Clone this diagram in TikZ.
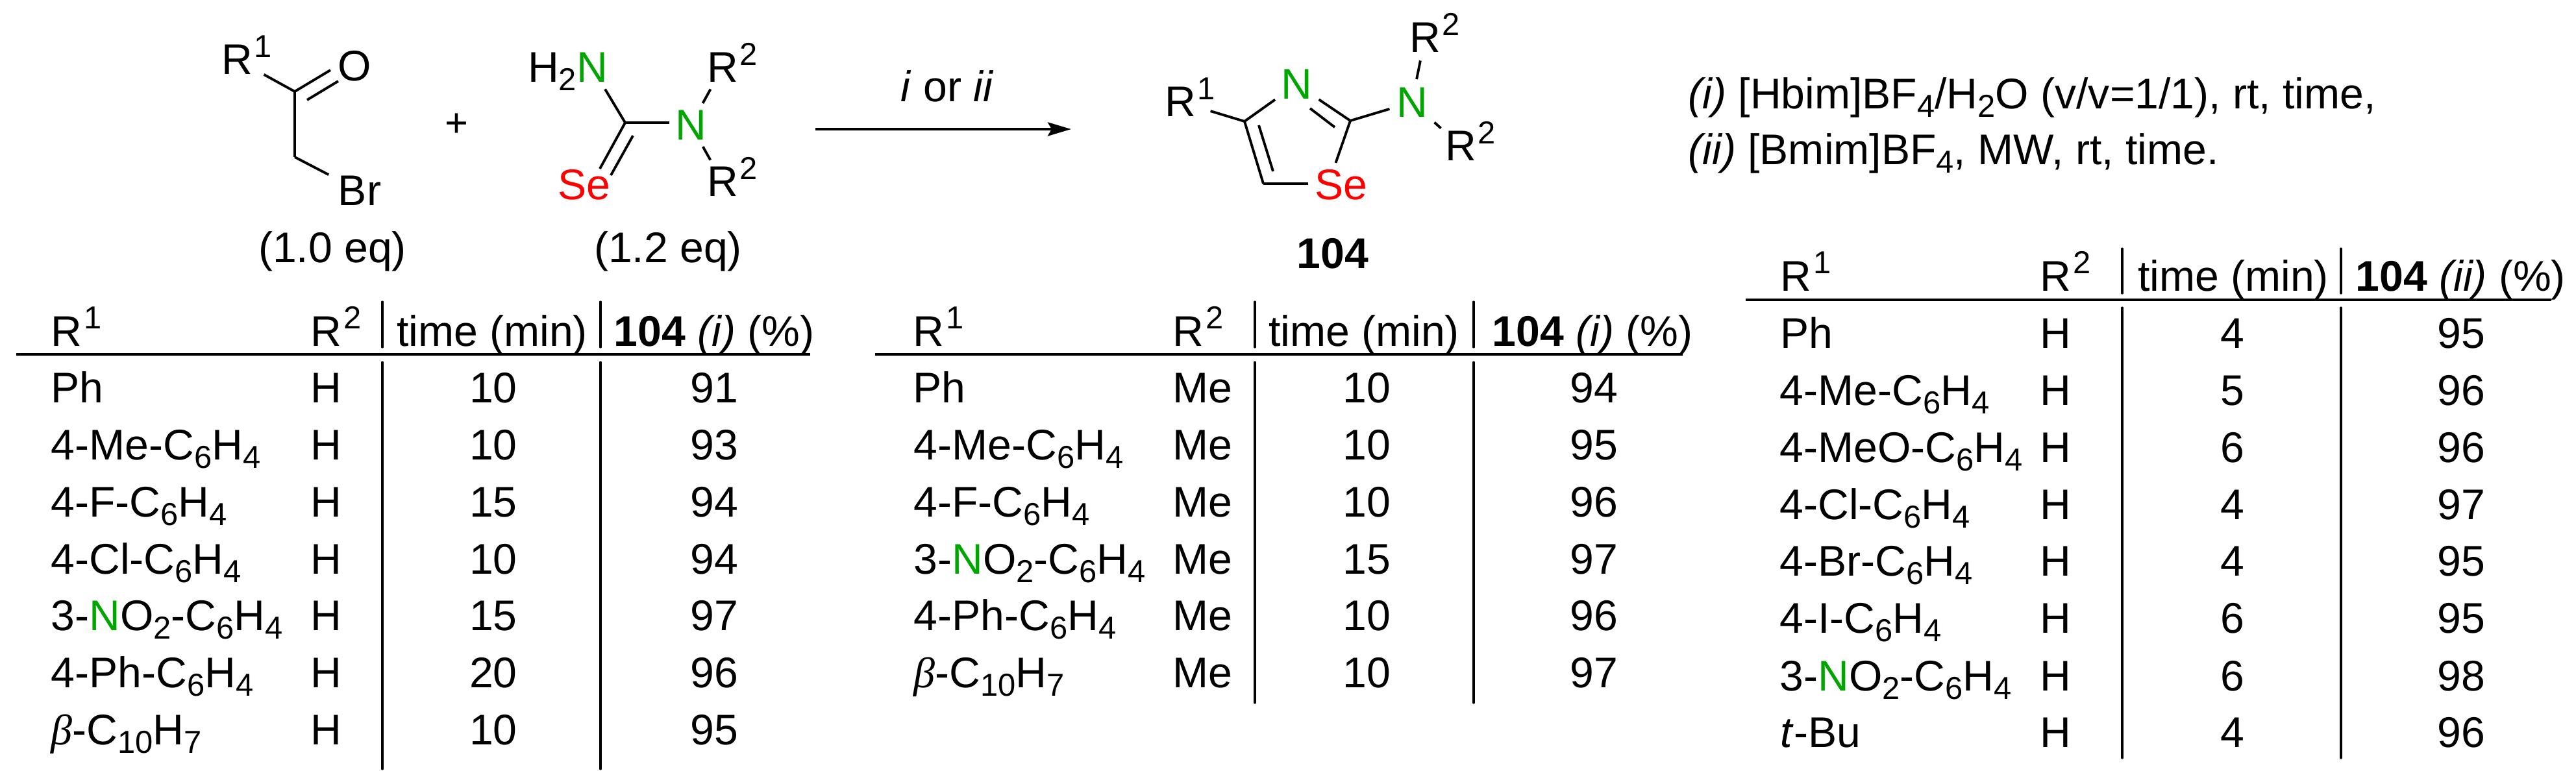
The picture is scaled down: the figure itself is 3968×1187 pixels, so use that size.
\documentclass[tikz,border=0pt]{standalone}
\usepackage{fontspec}
\setmainfont{Liberation Sans}
\newfontfamily\betafont{Liberation Serif}
\usetikzlibrary{arrows.meta}
\definecolor{ngreen}{RGB}{0,166,0}
\newcommand{\rsup}[1]{\smash{\rlap{\kern0.03cm\raisebox{0.26cm}{\fontsize{13.9}{15}\selectfont #1}}}}
\newcommand{\dn}[1]{\raisebox{-0.13cm}{\fontsize{13.9}{15}\selectfont #1}}
\tikzset{
    every node/.style={font=\fontsize{18.8}{22}\selectfont},
    atom/.style={inner xsep=0.1cm,inner ysep=0.1cm},
    lefttxt/.style={anchor=base west,inner sep=0pt},
    midtxt/.style={anchor=base,inner sep=0pt},
    bond/.style={line width=1.1pt},
    hrule/.style={line width=1.3pt},
    vrule/.style={line width=0.9pt,line cap=round},
    rxnarrow/.style={line width=1.35pt,-{Stealth[length=0.36cm,width=0.21cm,inset=0.06cm]}}
}
\begin{document}
\begin{tikzpicture}[x=0.01cm,y=-0.01cm]
    \useasboundingbox (0,0) rectangle (3968,1187);

    \coordinate (c1) at (454,141);
    \coordinate (c2) at (454,242);
    \coordinate (c3) at (963,189);
    \coordinate (c4) at (1917,187);
    \coordinate (c5) at (1946,283);
    \coordinate (c6) at (2080,186);
    \coordinate (co1) at (509,108);
    \coordinate (co2) at (473,154);
    \coordinate (co3) at (521,125);
    \coordinate (cs1) at (924,260);
    \coordinate (cs2) at (975,209);
    \coordinate (cs3) at (941,270);
    \coordinate (cn1) at (2018,167);
    \coordinate (cn2) at (2056,196);
    \coordinate (cc1) at (1939,193);
    \coordinate (cc2) at (1961,264);
    \coordinate (arrstart) at (1256,199);
    \coordinate (arrend) at (1650,199);

    \node[atom,inner xsep=0.17cm,inner ysep=0pt] (r1k) at (365,92) {R\rsup{1}};
    \node[atom] (oxy) at (546,102) {O};
    \node[atom,inner xsep=0.14cm,inner ysep=0.02cm] (brom) at (554,294) {Br};
    \node (plus) at (703,193) {\fontsize{17.5}{19}\selectfont +};
    \node[atom] (h2n) at (912,104) {\llap{\smash{H\dn{2}}}\textcolor{ngreen}{N}};
    \node[atom,inner xsep=0.08cm] (n1) at (1064,192.5) {\textcolor{ngreen}{N}};
    \node[atom] (r2a) at (1113,104) {R\rsup{2}};
    \node[atom] (r2b) at (1113,280) {R\rsup{2}};
    \node[atom] (se1) at (900,285) {\textcolor{red}{Se}};
    \node[midtxt] (eq1) at (512,404) {(1.0 eq)};
    \node[midtxt] (eq2) at (1029,404) {(1.2 eq)};
    \node[midtxt] (cond) at (1459,156) {\textit{i} or \textit{ii}};

    \node[atom,inner xsep=0.22cm,inner ysep=0pt] (r1p) at (1818,157) {R\rsup{1}};
    \node[atom,inner ysep=0pt] (n3) at (1997,130) {\textcolor{ngreen}{N}};
    \node[atom,inner ysep=0.12cm] (n4) at (2175,157.5) {\textcolor{ngreen}{N}};
    \node[atom,inner ysep=0.12cm] (r2c) at (2195,58) {R\rsup{2}};
    \node[atom,inner ysep=0.04cm] (r2d) at (2250,225) {R\rsup{2}};
    \node[atom] (se2) at (2066,285) {\textcolor{red}{Se}};
    \node[midtxt] (prod) at (2053,413) {\textbf{104}};

    \node[lefttxt] (note1) at (2600,167) {\textit{(i)} [Hbim]BF\dn{4}/H\dn{2}O (v/v=1/1), rt, time,};
    \node[lefttxt] (note2) at (2600,253) {\textit{(ii)} [Bmim]BF\dn{4}, MW, rt, time.};

    \path[draw,bond] (c1) -- (r1k);
    \path[draw,bond] (c1) -- (co1);
    \path[draw,bond] (co2) -- (co3);
    \path[draw,bond] (c1) -- (c2);
    \path[draw,bond] (c2) -- (brom);

    \path[draw,bond] (c3) -- (h2n);
    \path[draw,bond] (c3) -- (c3 -| n1.west);
    \path[draw,bond] (c3) -- (cs1);
    \path[draw,bond] (cs2) -- (cs3);
    \path[draw,bond] (n1) -- (r2a);
    \path[draw,bond] (n1) -- (r2b);

    \path[draw,rxnarrow] (arrstart) -- (arrend);

    \path[draw,bond] (c4) -- (r1p);
    \path[draw,bond] (c4) -- (n3);
    \path[draw,bond] (n3) -- (c6);
    \path[draw,bond] (cn1) -- (cn2);
    \path[draw,bond] (c6) -- (n4);
    \path[draw,bond] (c6) -- (se2.104);
    \path[draw,bond] (c4) -- (c5);
    \path[draw,bond] (cc1) -- (cc2);
    \path[draw,bond] (c5) -- (c5 -| se2.west);
    \path[draw,bond] (n4) -- (r2c);
    \path[draw,bond] (n4) -- (r2d);

    \path[draw,hrule] (25,546) -- (1248,546);
    \path[draw,vrule] (589,465) -- (589,535);
    \path[draw,vrule] (925,465) -- (925,535);
    \path[draw,vrule] (589,558) -- (589,1185);
    \path[draw,vrule] (925,558) -- (925,1185);

    \node[lefttxt] (a0r1) at (78,533) {R\rsup{1}};
    \node[lefttxt] (a0r2) at (478,533) {R\rsup{2}};
    \node[midtxt] (a0t) at (758,533) {time (min)};
    \node[lefttxt] (a0y) at (945,533) {\textbf{104} \textit{(i)} (\%)};

    \node[lefttxt] (a1r1) at (78,620) {Ph};
    \node[lefttxt] (a1r2) at (478,620) {H};
    \node[midtxt] (a1t) at (760,620) {10};
    \node[midtxt] (a1y) at (1100,620) {91};
    \node[lefttxt] (a2r1) at (78,708) {4-Me-C\dn{6}H\dn{4}};
    \node[lefttxt] (a2r2) at (478,708) {H};
    \node[midtxt] (a2t) at (760,708) {10};
    \node[midtxt] (a2y) at (1100,708) {93};
    \node[lefttxt] (a3r1) at (78,796) {4-F-C\dn{6}H\dn{4}};
    \node[lefttxt] (a3r2) at (478,796) {H};
    \node[midtxt] (a3t) at (760,796) {15};
    \node[midtxt] (a3y) at (1100,796) {94};
    \node[lefttxt] (a4r1) at (78,884) {4-Cl-C\dn{6}H\dn{4}};
    \node[lefttxt] (a4r2) at (478,884) {H};
    \node[midtxt] (a4t) at (760,884) {10};
    \node[midtxt] (a4y) at (1100,884) {94};
    \node[lefttxt] (a5r1) at (78,971) {3-\textcolor{ngreen}{N}O\dn{2}-C\dn{6}H\dn{4}};
    \node[lefttxt] (a5r2) at (478,971) {H};
    \node[midtxt] (a5t) at (760,971) {15};
    \node[midtxt] (a5y) at (1100,971) {97};
    \node[lefttxt] (a6r1) at (78,1059) {4-Ph-C\dn{6}H\dn{4}};
    \node[lefttxt] (a6r2) at (478,1059) {H};
    \node[midtxt] (a6t) at (760,1059) {20};
    \node[midtxt] (a6y) at (1100,1059) {96};
    \node[lefttxt] (a7r1) at (78,1147) {{\betafont\itshape β}-C\dn{10}H\dn{7}};
    \node[lefttxt] (a7r2) at (478,1147) {H};
    \node[midtxt] (a7t) at (760,1147) {10};
    \node[midtxt] (a7y) at (1100,1147) {95};

    \path[draw,hrule] (1348,546) -- (2592,546);
    \path[draw,vrule] (1933,465) -- (1933,535);
    \path[draw,vrule] (2270,465) -- (2270,535);
    \path[draw,vrule] (1933,558) -- (1933,1083);
    \path[draw,vrule] (2270,558) -- (2270,1083);

    \node[lefttxt] (b0r1) at (1406,533) {R\rsup{1}};
    \node[lefttxt] (b0r2) at (1806,533) {R\rsup{2}};
    \node[midtxt] (b0t) at (2101,533) {time (min)};
    \node[lefttxt] (b0y) at (2298,533) {\textbf{104} \textit{(i)} (\%)};

    \node[lefttxt] (b1r1) at (1406,620) {Ph};
    \node[lefttxt] (b1r2) at (1806,620) {Me};
    \node[midtxt] (b1t) at (2105,620) {10};
    \node[midtxt] (b1y) at (2455,620) {94};
    \node[lefttxt] (b2r1) at (1407,708) {4-Me-C\dn{6}H\dn{4}};
    \node[lefttxt] (b2r2) at (1806,708) {Me};
    \node[midtxt] (b2t) at (2105,708) {10};
    \node[midtxt] (b2y) at (2455,708) {95};
    \node[lefttxt] (b3r1) at (1407,796) {4-F-C\dn{6}H\dn{4}};
    \node[lefttxt] (b3r2) at (1806,796) {Me};
    \node[midtxt] (b3t) at (2105,796) {10};
    \node[midtxt] (b3y) at (2455,796) {96};
    \node[lefttxt] (b4r1) at (1407,884) {3-\textcolor{ngreen}{N}O\dn{2}-C\dn{6}H\dn{4}};
    \node[lefttxt] (b4r2) at (1806,884) {Me};
    \node[midtxt] (b4t) at (2105,884) {15};
    \node[midtxt] (b4y) at (2455,884) {97};
    \node[lefttxt] (b5r1) at (1407,971) {4-Ph-C\dn{6}H\dn{4}};
    \node[lefttxt] (b5r2) at (1806,971) {Me};
    \node[midtxt] (b5t) at (2105,971) {10};
    \node[midtxt] (b5y) at (2455,971) {96};
    \node[lefttxt] (b6r1) at (1407,1059) {{\betafont\itshape β}-C\dn{10}H\dn{7}};
    \node[lefttxt] (b6r2) at (1806,1059) {Me};
    \node[midtxt] (b6t) at (2105,1059) {10};
    \node[midtxt] (b6y) at (2455,1059) {97};

    \path[draw,hrule] (2689,462) -- (3930,462);
    \path[draw,vrule] (3269,383) -- (3269,452);
    \path[draw,vrule] (3606,383) -- (3606,452);
    \path[draw,vrule] (3269,474) -- (3269,1168);
    \path[draw,vrule] (3606,474) -- (3606,1168);

    \node[lefttxt] (c0r1) at (2742,448) {R\rsup{1}};
    \node[lefttxt] (c0r2) at (3142,448) {R\rsup{2}};
    \node[midtxt] (c0t) at (3440,448) {time (min)};
    \node[lefttxt] (c0y) at (3628,448) {\textbf{104} \textit{(ii)} (\%)};

    \node[lefttxt] (c1r1) at (2742,536) {Ph};
    \node[lefttxt] (c1r2) at (3142,536) {H};
    \node[midtxt] (c1t) at (3439,536) {4};
    \node[midtxt] (c1y) at (3791,536) {95};
    \node[lefttxt] (c2r1) at (2741,624) {4-Me-C\dn{6}H\dn{4}};
    \node[lefttxt] (c2r2) at (3142,624) {H};
    \node[midtxt] (c2t) at (3439,624) {5};
    \node[midtxt] (c2y) at (3791,624) {96};
    \node[lefttxt] (c3r1) at (2741,712) {4-MeO-C\dn{6}H\dn{4}};
    \node[lefttxt] (c3r2) at (3142,712) {H};
    \node[midtxt] (c3t) at (3439,712) {6};
    \node[midtxt] (c3y) at (3791,712) {96};
    \node[lefttxt] (c4r1) at (2741,800) {4-Cl-C\dn{6}H\dn{4}};
    \node[lefttxt] (c4r2) at (3142,800) {H};
    \node[midtxt] (c4t) at (3439,800) {4};
    \node[midtxt] (c4y) at (3791,800) {97};
    \node[lefttxt] (c5r1) at (2741,887) {4-Br-C\dn{6}H\dn{4}};
    \node[lefttxt] (c5r2) at (3142,887) {H};
    \node[midtxt] (c5t) at (3439,887) {4};
    \node[midtxt] (c5y) at (3791,887) {95};
    \node[lefttxt] (c6r1) at (2741,975) {4-I-C\dn{6}H\dn{4}};
    \node[lefttxt] (c6r2) at (3142,975) {H};
    \node[midtxt] (c6t) at (3439,975) {6};
    \node[midtxt] (c6y) at (3791,975) {95};
    \node[lefttxt] (c7r1) at (2741,1064) {3-\textcolor{ngreen}{N}O\dn{2}-C\dn{6}H\dn{4}};
    \node[lefttxt] (c7r2) at (3142,1064) {H};
    \node[midtxt] (c7t) at (3439,1064) {6};
    \node[midtxt] (c7y) at (3791,1064) {98};
    \node[lefttxt] (c8r1) at (2742,1151) {\textit{t}-Bu};
    \node[lefttxt] (c8r2) at (3142,1151) {H};
    \node[midtxt] (c8t) at (3439,1151) {4};
    \node[midtxt] (c8y) at (3791,1151) {96};
\end{tikzpicture}
\end{document}
